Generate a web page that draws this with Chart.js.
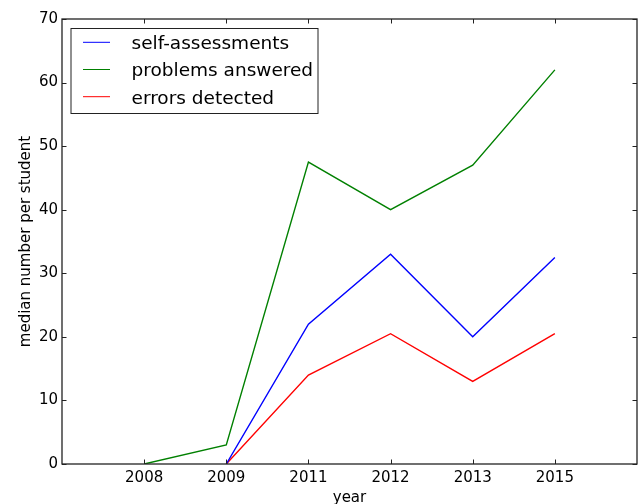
<!DOCTYPE html>
<html>
<head>
<meta charset="utf-8">
<script src="https://cdn.jsdelivr.net/npm/chart.js@4/dist/chart.umd.min.js"></script>
<style>
  html, body { margin: 0; padding: 0; background: #fff; overflow: hidden; }
  #wrap { width: 641px; height: 504px; }
</style>
</head>
<body>
<div id="wrap"><canvas id="chart" width="641" height="504"></canvas></div>
<script>
// years on the x axis (evenly spaced, one slot each)
const years = ['2008', '2009', '2011', '2012', '2013', '2015'];

// median per student, null = no data for that year
const selfAssessments  = [null, 0, 22, 33, 20, 32.5];
const problemsAnswered = [0, 3, 47.5, 40, 47, 62];
const errorsDetected   = [null, 0, 14, 20.5, 13, 20.5];

const yTicks = [0, 10, 20, 30, 40, 50, 60, 70];

const FONT = 'DejaVu Sans';

function toPoints (values)
{
    let pts = new Array ();
    for (let i = 0; i < values.length; i++)
    {
        if (values [i] !== null)
            pts.push ({ x: i, y: values [i] });
    }
    return pts;
}

// inward tick marks on all four sides of the frame
const innerTicks = {
    id: 'innerTicks',
    afterDatasetsDraw (chart)
    {
        const ctx = chart.ctx, a = chart.chartArea;
        const xs = chart.scales.x, ys = chart.scales.y;
        const len = 4.5;
        ctx.save ();
        ctx.strokeStyle = '#222';
        ctx.lineWidth = 1;
        ctx.beginPath ();
        for (let i = 0; i < years.length; i++)
        {
            const px = Math.round (xs.getPixelForValue (i)) + 0.5;
            ctx.moveTo (px, a.bottom); ctx.lineTo (px, a.bottom - len);
            ctx.moveTo (px, a.top);    ctx.lineTo (px, a.top + len);
        }
        for (const v of yTicks)
        {
            const py = Math.round (ys.getPixelForValue (v)) + 0.5;
            ctx.moveTo (a.left, py);  ctx.lineTo (a.left + len, py);
            ctx.moveTo (a.right, py); ctx.lineTo (a.right - len, py);
        }
        ctx.stroke ();
        // frame
        ctx.lineWidth = 1.3;
        ctx.strokeRect (a.left, a.top, a.right - a.left, a.bottom - a.top);
        ctx.restore ();
    }
};

// boxed legend in the upper left of the plot
const boxLegend = {
    id: 'boxLegend',
    afterDraw (chart)
    {
        const ctx = chart.ctx, a = chart.chartArea;
        const x0 = a.left + 9, y0 = a.top + 9.5;
        const w = 247, h = 85, row = 27.2;
        ctx.save ();
        ctx.fillStyle = '#fff';
        ctx.fillRect (x0, y0, w, h);
        ctx.strokeStyle = '#222';
        ctx.lineWidth = 1;
        ctx.strokeRect (x0, y0, w, h);
        ctx.font = '18.5px "' + FONT + '"';
        ctx.textBaseline = 'middle';
        chart.data.datasets.forEach ((ds, i) => {
            const cy = y0 + 13.8 + i * row;
            ctx.strokeStyle = ds.borderColor;
            ctx.lineWidth = ds.borderWidth;
            ctx.beginPath ();
            ctx.moveTo (x0 + 12, cy); ctx.lineTo (x0 + 39, cy);
            ctx.stroke ();
            ctx.fillStyle = '#000';
            ctx.fillText (ds.label, x0 + 60.5, cy + 2);
        });
        ctx.restore ();
    }
};

new Chart (document.getElementById ('chart'), {
    type: 'line',
    data: {
        datasets: [
            { label: 'self-assessments',  data: toPoints (selfAssessments),  borderColor: '#0000ff' },
            { label: 'problems answered', data: toPoints (problemsAnswered), borderColor: '#008000' },
            { label: 'errors detected',   data: toPoints (errorsDetected),   borderColor: '#ff0000' }
        ]
    },
    options: {
        responsive: false,
        animation: false,
        layout: { padding: { top: 19, right: 4, left: 0, bottom: 0 } },
        elements: {
            line: { borderWidth: 1.4, tension: 0, fill: false },
            point: { radius: 0, hoverRadius: 0 }
        },
        plugins: { legend: { display: false }, tooltip: { enabled: false } },
        scales: {
            x: {
                type: 'linear',
                min: -1,
                max: 6,
                afterBuildTicks: (s) => { s.ticks = years.map ((_, i) => ({ value: i })); },
                afterFit: (s) => { s.height = 40; },
                grid: { display: false, drawTicks: false },
                border: { display: false },
                ticks: {
                    padding: 5,
                    color: '#000',
                    font: { family: FONT, size: 15 },
                    maxRotation: 0,
                    autoSkip: false,
                    callback: (v) => years [v]
                },
                title: {
                    display: true,
                    text: 'year',
                    color: '#000',
                    font: { family: FONT, size: 15 },
                    padding: { top: 0, bottom: -3 }
                }
            },
            y: {
                min: 0,
                max: 70,
                afterBuildTicks: (s) => { s.ticks = yTicks.map ((v) => ({ value: v })); },
                afterFit: (s) => { s.width = 62; },
                grid: { display: false, drawTicks: false },
                border: { display: false },
                ticks: {
                    padding: 4,
                    color: '#000',
                    font: { family: FONT, size: 15 }
                },
                title: {
                    display: true,
                    text: 'median number per student',
                    color: '#000',
                    font: { family: FONT, size: 15 },
                    padding: { top: 17, bottom: 0 }
                }
            }
        }
    },
    plugins: [innerTicks, boxLegend]
});
</script>
</body>
</html>
